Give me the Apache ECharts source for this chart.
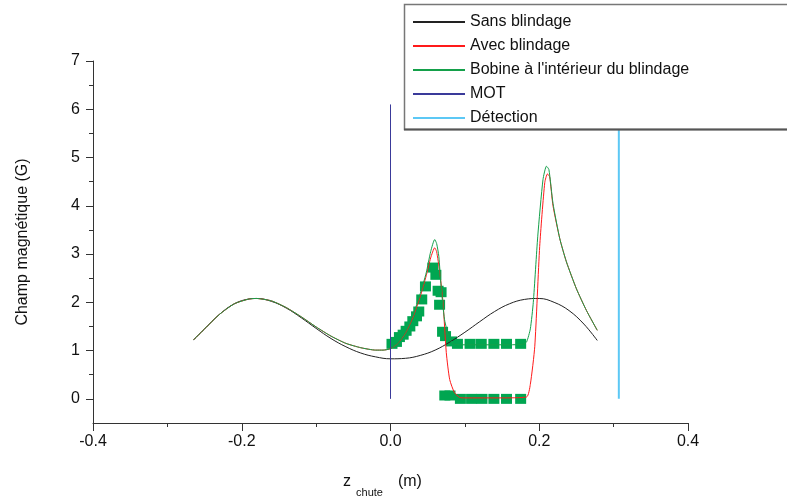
<!DOCTYPE html>
<html>
<head>
<meta charset="utf-8">
<script src="https://cdn.jsdelivr.net/npm/echarts@6/dist/echarts.min.js"></script>
<style>
html,body{margin:0;padding:0;background:#fff;}
#main{width:787px;height:498px;}
</style>
</head>
<body>
<div id="main"></div>
<script>
// ---- data ----
var xTickLabels = [-0.4, -0.2, 0.0, 0.2, 0.4];
var yTickLabels = [0, 1, 2, 3, 4, 5, 6, 7];
var yMinorTicks = [0.5, 1.5, 2.5, 3.5, 4.5, 5.5, 6.5];

var seriesNames = ['Sans blindage', 'Avec blindage', "Bobine à l'intérieur du blindage", 'MOT', 'Détection'];

var sansBlindage = [
  [-0.265,1.22],[-0.25,1.45],[-0.23,1.75],[-0.21,1.97],[-0.19,2.07],[-0.18,2.08],
  [-0.16,2.02],[-0.14,1.88],[-0.12,1.68],[-0.10,1.46],[-0.08,1.25],[-0.06,1.08],
  [-0.04,0.95],[-0.02,0.87],[0.00,0.83],[0.02,0.84],[0.04,0.90],[0.06,1.01],
  [0.08,1.18],[0.10,1.38],[0.12,1.60],[0.14,1.81],[0.16,1.97],[0.18,2.06],
  [0.20,2.08],[0.22,2.00],[0.24,1.83],[0.26,1.55],[0.278,1.21]
];

var avecBlindage = [
  [-0.265,1.22],[-0.25,1.45],[-0.23,1.75],[-0.21,1.97],[-0.19,2.07],[-0.18,2.08],
  [-0.16,2.03],[-0.14,1.89],[-0.12,1.70],[-0.10,1.49],[-0.08,1.30],[-0.06,1.15],
  [-0.04,1.06],[-0.02,1.01],[-0.01,1.01],[0.00,1.04],[0.01,1.15],[0.02,1.36],
  [0.03,1.68],[0.04,2.12],[0.048,2.55],[0.054,2.92],[0.0594,3.13],[0.062,3.05],
  [0.066,2.65],[0.0706,2.00],[0.075,0.96],[0.0796,0.40],[0.086,0.13],[0.093,0.03],
  [0.10,0.02],[0.15,0.02],[0.183,0.04],[0.188,0.30],[0.194,1.09],[0.2006,3.16],
  [0.2074,4.48],[0.211,4.66],[0.214,4.60],[0.2185,4.00],[0.2276,3.32],[0.2365,2.84],
  [0.25,2.28],[0.2635,1.83],[0.278,1.42]
];

var bobineInterieur = [
  [-0.265,1.22],[-0.25,1.45],[-0.23,1.75],[-0.21,1.97],[-0.19,2.07],[-0.18,2.08],
  [-0.16,2.03],[-0.14,1.89],[-0.12,1.70],[-0.10,1.49],[-0.08,1.30],[-0.06,1.15],
  [-0.04,1.06],[-0.02,1.01],[-0.01,1.01],[0.00,1.04],[0.01,1.16],[0.02,1.38],
  [0.03,1.72],[0.04,2.18],[0.048,2.61],[0.054,3.05],[0.0594,3.30],[0.062,3.22],
  [0.065,2.95],[0.068,2.33],[0.0727,1.64],[0.0796,1.23],[0.086,1.13],[0.10,1.12],
  [0.15,1.12],[0.178,1.13],[0.183,1.18],[0.188,1.45],[0.192,2.00],[0.198,3.37],
  [0.205,4.54],[0.2097,4.82],[0.213,4.75],[0.2185,4.05],[0.2276,3.32],[0.2365,2.84],
  [0.25,2.28],[0.2635,1.83],[0.278,1.42]
];

var motLine = [[0.0, 0.0], [0.0, 6.1]];
var detectionLine = [[0.307, 0.0], [0.307, 7.0]];

var mesuresHaut = [
  [0.002,1.14],[0.008,1.18],[0.012,1.28],[0.017,1.33],[0.021,1.41],[0.026,1.50],
  [0.030,1.61],[0.035,1.71],[0.038,1.81],[0.042,2.06],[0.047,2.33],[0.057,2.72],
  [0.061,2.57],[0.064,2.24],[0.068,2.21],[0.066,1.95],[0.070,1.39],[0.074,1.30],
  [0.082,1.19],[0.090,1.14],[0.107,1.14],[0.122,1.14],[0.139,1.14],[0.156,1.14],
  [0.175,1.14]
];
var mesuresBas = [
  [0.073,0.07],[0.080,0.07],[0.094,0.0],[0.109,0.0],[0.123,0.0],[0.139,0.0],
  [0.156,0.0],[0.175,0.0]
];

// ---- chart ----
var FONT = '"Liberation Sans", Arial, sans-serif';
var chart = echarts.init(document.getElementById('main'), null, {renderer: 'canvas'});

function lineSeries(name, data, color, width, smooth, z) {
  return {
    name: name, type: 'line', data: data, symbol: 'none', smooth: smooth,
    lineStyle: {color: color, width: width}, itemStyle: {color: color},
    z: z, animation: false, emphasis: {disabled: true}
  };
}

var option = {
  animation: false,
  backgroundColor: '#fff',
  textStyle: {fontFamily: FONT},
  grid: {left: 93, right: 99, top: 61, bottom: 75, containLabel: false, outerBoundsMode: 'none'},
  legend: {
    data: seriesNames,
    orient: 'vertical',
    left: 407, top: 9,
    itemWidth: 52, itemHeight: 1, itemGap: 8,
    textStyle: {fontSize: 16, color: '#111', fontFamily: FONT},
    selectedMode: false,
    z: 200
  },
  graphic: [
    {type: 'rect', z: 100, shape: {x: 404.5, y: 4.5, width: 420, height: 125},
     style: {fill: '#fff', stroke: '#777', lineWidth: 1.5}},
    {type: 'line', z: 101, shape: {x1: 404, y1: 129.5, x2: 800, y2: 129.5},
     style: {stroke: '#555', lineWidth: 2}}
  ],
  xAxis: {
    type: 'value', min: -0.4, max: 0.4, interval: 0.2,
    name: '{z|z}{s|chute}{m|(m)}',
    nameLocation: 'middle', nameGap: 51,
    nameTextStyle: {
      padding: [0, 16, 0, 0],
      rich: {
        z: {fontSize: 16, color: '#111', fontFamily: FONT, lineHeight: 24, verticalAlign: 'top'},
        s: {fontSize: 11, color: '#111', fontFamily: FONT, lineHeight: 24, verticalAlign: 'bottom', padding: [0, 0, 0, 5]},
        m: {fontSize: 16, color: '#111', fontFamily: FONT, lineHeight: 24, verticalAlign: 'top', padding: [0, 0, 0, 15]}
      }
    },
    axisLine: {show: true, onZero: false, lineStyle: {color: '#333', width: 1}},
    axisTick: {show: true, length: 8, lineStyle: {color: '#333'}},
    minorTick: {show: true, splitNumber: 2, length: 4, lineStyle: {color: '#333'}},
    axisLabel: {fontSize: 16, color: '#111', margin: 11, fontFamily: FONT,
      formatter: function (v) { return v.toFixed(1); }},
    splitLine: {show: false},
    minorSplitLine: {show: false}
  },
  yAxis: [
    {
      type: 'value', min: -0.5, max: 7,
      name: 'Champ magnétique (G)', nameLocation: 'middle', nameGap: 62,
      nameTextStyle: {fontSize: 16, color: '#111', fontFamily: FONT},
      axisLine: {show: true, onZero: false, lineStyle: {color: '#333', width: 1}},
      axisTick: {show: true, length: 7, customValues: yTickLabels, lineStyle: {color: '#333'}},
      axisLabel: {fontSize: 16, color: '#111', margin: 13, fontFamily: FONT, customValues: yTickLabels},
      splitLine: {show: false}
    },
    {
      type: 'value', min: -0.5, max: 7, position: 'left', offset: 0,
      axisLine: {show: false, onZero: false},
      axisTick: {show: true, length: 4, customValues: yMinorTicks, lineStyle: {color: '#333'}},
      axisLabel: {show: false, customValues: yMinorTicks},
      splitLine: {show: false}
    }
  ],
  series: [
    {name: 'mesures haut', type: 'scatter', data: mesuresHaut, symbol: 'rect', symbolSize: [11, 10],
     itemStyle: {color: '#00a651', opacity: 1}, z: 2, emphasis: {disabled: true}},
    {name: 'mesures bas', type: 'scatter', data: mesuresBas, symbol: 'rect', symbolSize: [11, 10],
     itemStyle: {color: '#00a651', opacity: 1}, z: 2, emphasis: {disabled: true}},
    lineSeries(seriesNames[0], sansBlindage, '#222222', 1, 0.4, 3),
    lineSeries(seriesNames[1], avecBlindage, '#ff1a1a', 1, 0.2, 3),
    lineSeries(seriesNames[2], bobineInterieur, '#14a04a', 1, 0.2, 4),
    lineSeries(seriesNames[3], motLine, '#3a3a9a', 1, false, 4),
    lineSeries(seriesNames[4], detectionLine, '#5cc8f5', 2, false, 4)
  ]
};
chart.setOption(option);
</script>
</body>
</html>
